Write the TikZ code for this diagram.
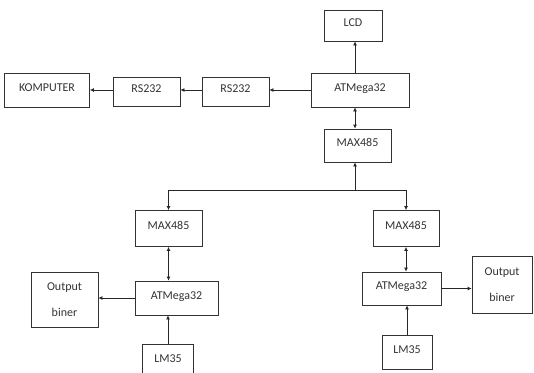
\documentclass[tikz,border=0pt]{standalone}
\usepackage{fontspec}
\setmainfont{Carlito}
\usetikzlibrary{arrows.meta}

\begin{document}
\begin{tikzpicture}[
    x=1pt, y=-1pt,
    every node/.style={font=\fontsize{12}{14}\selectfont, text=black!80},
    box/.style ={draw=black!80, line width=0.8pt, inner sep=0pt, align=center},
    sbox/.style={box, text height=9pt, text depth=7pt},
    arr/.style ={-{Latex[length=4pt,width=4pt]}, line width=0.8pt, draw=black!85},
    darr/.style={{Latex[length=4pt,width=4pt]}-{Latex[length=4pt,width=4pt]},
                 line width=0.8pt, draw=black!85}
  ]
  \clip (0,0) rectangle (534,372);
  % master
  \node[sbox, minimum width=58pt, minimum height=31pt] (lcd)  at (353,25.5) {LCD};
  \node[sbox, minimum width=98pt, minimum height=34pt] (atm)  at (360,90)   {ATMega32};
  \node[sbox, minimum width=67pt, minimum height=29pt] (rsb)  at (235.5,91.5) {RS232};
  \node[sbox, minimum width=67pt, minimum height=29pt] (rsa)  at (146.5,91.5) {RS232};
  \node[sbox, minimum width=85pt, minimum height=34pt] (komp) at (47,90)    {KOMPUTER};
  \node[sbox, minimum width=67pt, minimum height=33pt] (max)  at (357.5,145.5) {MAX485};
  \coordinate (bus) at (355,190);
  % slave kiri
  \node[sbox, minimum width=67pt, minimum height=36pt] (maxl) at (168.5,228.5) {MAX485};
  \node[sbox, minimum width=83pt, minimum height=34pt] (atml) at (176.5,298) {ATMega32};
  \node[box, minimum width=67pt, minimum height=55pt] (outl) at (64.5,299.5) {Output\\[12pt]biner};
  \node[sbox, minimum width=51pt, minimum height=34pt] (lml)  at (168,361)   {LM35};
  % slave kanan
  \node[sbox, minimum width=66pt, minimum height=36pt] (maxr) at (406,228.5) {MAX485};
  \node[sbox, minimum width=79pt, minimum height=33pt] (atmr) at (401.5,288.5) {ATMega32};
  \node[box, minimum width=60pt, minimum height=57pt] (outr) at (502,285)   {Output\\[12pt]biner};
  \node[sbox, minimum width=50pt, minimum height=34pt] (lmr)  at (407,352)   {LM35};

  \draw[arr] (atm.north -| bus) -- (lcd.south -| bus);
  \draw[arr] (atm.west) -- (atm.west -| rsb.east);
  \draw[arr] (rsb.west |- atm.west) -- (rsa.east |- atm.west);
  \draw[arr] (rsa.west |- atm.west) -- (komp.east |- atm.west);
  \draw[darr] (atm.south -| bus) -- (max.north -| bus);
  \draw[arr] (bus) -- (max.south -| bus);
  \draw[arr] (bus) -| (maxl.north);
  \draw[arr] (bus) -| (maxr.north);
  \draw[darr] (maxl.south) -- (maxl.south |- atml.north);
  \draw[arr] (atml.west) -- (atml.west -| outl.east);
  \draw[arr] (lml.north) -- (lml.north |- atml.south);
  \draw[darr] (maxr.south) -- (maxr.south |- atmr.north);
  \draw[arr] (atmr.east) -- (atmr.east -| outr.west);
  \draw[arr] (lmr.north) -- (lmr.north |- atmr.south);
\end{tikzpicture}
\end{document}
